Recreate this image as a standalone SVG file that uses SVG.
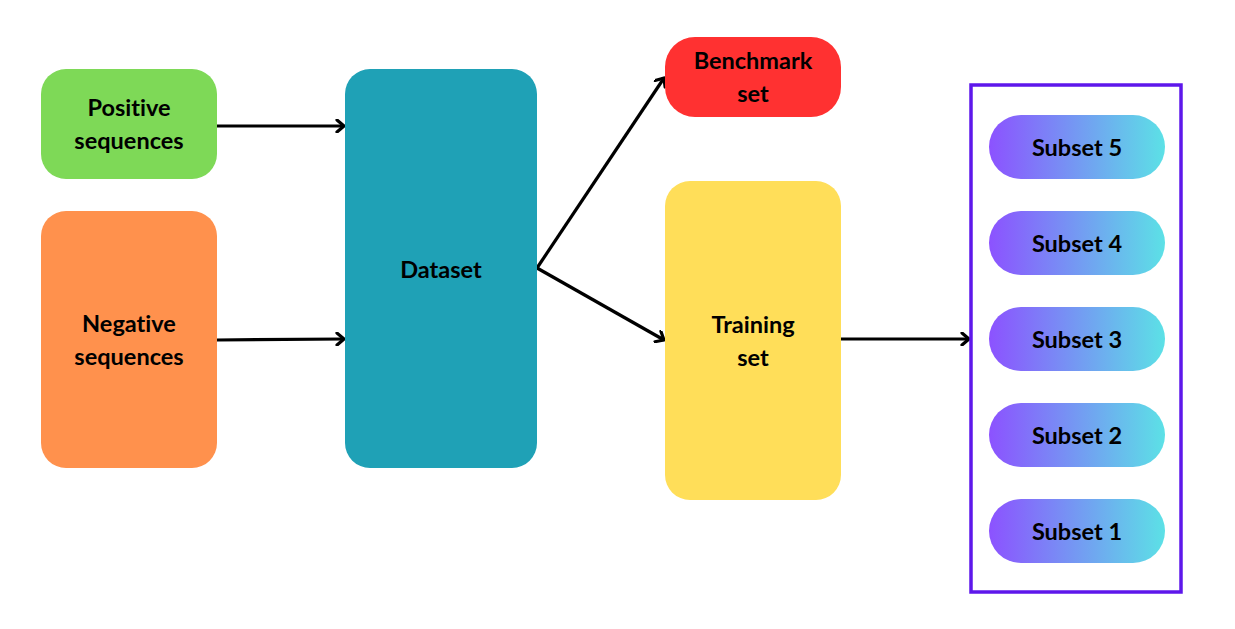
<svg xmlns="http://www.w3.org/2000/svg" width="1235" height="629" viewBox="0 0 1235 629">
<style>
text{font-family:Lato,"Noto Sans","Liberation Sans",sans-serif;font-weight:bold;font-size:23.5px;fill:#000;text-anchor:middle;dominant-baseline:central;font-variant-ligatures:none}
.c{fill:none;stroke:#000;stroke-width:3.2;marker-end:url(#ah)}
.sub{fill:url(#g)}
</style>
<defs>
<linearGradient id="g" x1="0" y1="0" x2="1" y2="0">
<stop offset="0" stop-color="#8C52FF"/>
<stop offset="1" stop-color="#5CE1E6"/>
</linearGradient>
<marker id="ah" markerWidth="14" markerHeight="14" refX="11" refY="7" orient="auto" markerUnits="userSpaceOnUse">
<path d="M4,1 L11,7 L4,13" fill="none" stroke="#000" stroke-width="3.2" stroke-linecap="round" stroke-linejoin="round"/>
</marker>
</defs>
<rect width="1235" height="629" fill="#fff"/>
<g id="connectors">
<line class="c" x1="217" y1="126" x2="344" y2="126"/>
<line class="c" x1="217" y1="340" x2="344" y2="339"/>
<line class="c" x1="537" y1="268" x2="664" y2="78"/>
<line class="c" x1="537" y1="268" x2="664" y2="340"/>
<line class="c" x1="841" y1="339" x2="969" y2="339"/>
</g>
<g id="positive"><rect x="41" y="69" width="176" height="110" rx="25" fill="#7ED957"/><text x="129" y="107">Positive</text><text x="129" y="140">sequences</text></g>
<g id="negative"><rect x="41" y="211" width="176" height="257" rx="25" fill="#FF914D"/><text x="129" y="323">Negative</text><text x="129" y="356">sequences</text></g>
<g id="dataset"><rect x="345" y="69" width="192" height="399" rx="25" fill="#1FA1B6"/><text x="441" y="269">Dataset</text></g>
<g id="benchmark"><rect x="665" y="37" width="176" height="80" rx="30" fill="#FF3131"/><text x="753" y="60">Benchmark</text><text x="753" y="93">set</text></g>
<g id="training"><rect x="665" y="181" width="176" height="319" rx="25" fill="#FFDE59"/><text x="753" y="324">Training</text><text x="753" y="357">set</text></g>
<g id="subsets">
<rect x="971" y="85" width="210" height="507" fill="none" stroke="#5E17EB" stroke-width="3.5"/>
<g id="subset5"><rect class="sub" x="989" y="115" width="176" height="64" rx="32"/><text x="1077" y="147">Subset 5</text></g>
<g id="subset4"><rect class="sub" x="989" y="211" width="176" height="64" rx="32"/><text x="1077" y="243">Subset 4</text></g>
<g id="subset3"><rect class="sub" x="989" y="307" width="176" height="64" rx="32"/><text x="1077" y="339">Subset 3</text></g>
<g id="subset2"><rect class="sub" x="989" y="403" width="176" height="64" rx="32"/><text x="1077" y="435">Subset 2</text></g>
<g id="subset1"><rect class="sub" x="989" y="499" width="176" height="64" rx="32"/><text x="1077" y="531">Subset 1</text></g>
</g>
</svg>
